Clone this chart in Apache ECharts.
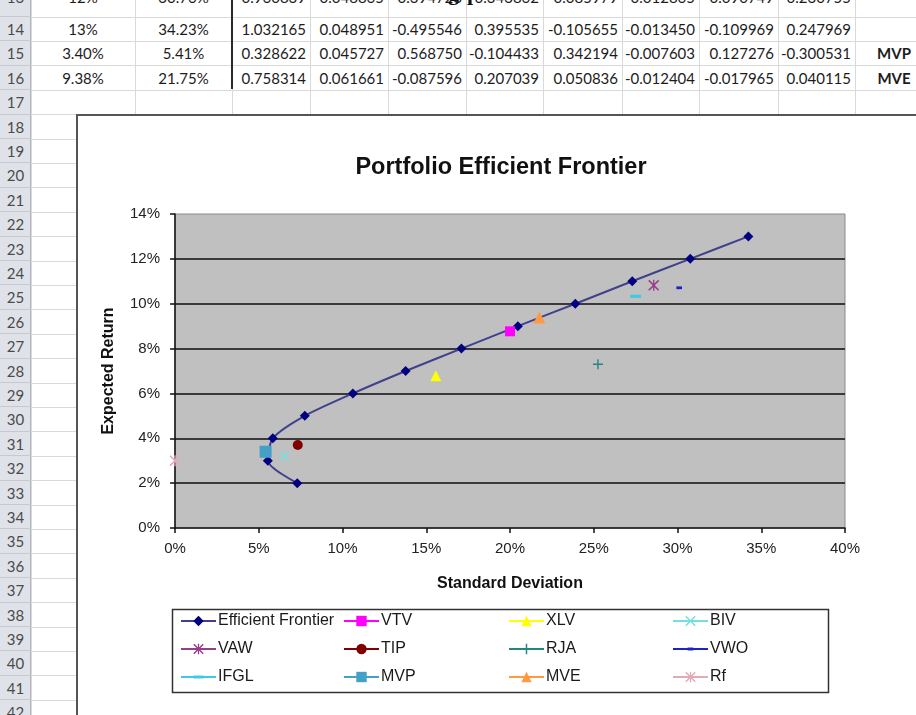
<!DOCTYPE html>
<html>
<head>
<meta charset="utf-8">
<title>Portfolio Efficient Frontier</title>
<script src="https://cdn.jsdelivr.net/npm/echarts@6/dist/echarts.min.js"></script>
<style>
  html, body { margin: 0; padding: 0; background: #fff; }
  #page { position: relative; width: 916px; height: 715px; overflow: hidden; background: #fff;
          font-family: Lato, "Liberation Sans", sans-serif; }
  .hline { position: absolute; height: 1px; background: #d9d9d9; }
  .vline { position: absolute; width: 1px; background: #d9d9d9; }
  .rowhdr { position: absolute; left: 0; width: 31px; background: #dfe3e9; border-right: 1px solid #aeb5c0;
            box-sizing: border-box; border-bottom: 1px solid #c4cad3; color: #4b4b4b; font-size: 15px;
            text-align: center; }
  .cell { position: absolute; font-size: 15px; color: #1c1c1c; white-space: nowrap; box-sizing: border-box; }
  .cell.num { text-align: right; padding-right: 4px; }
  .cell.ctr { text-align: center; }
  .cell.tag { text-align: center; font-weight: bold; }
  .heading { position: absolute; font-family: "Liberation Serif", serif; font-weight: bold; font-size: 22px;
             line-height: 22px; color: #111; white-space: nowrap; }
  #chartBox { position: absolute; left: 76px; top: 114px; width: 900px; height: 700px; background: #fff;
              border: 2px solid #555; box-sizing: border-box; }
  #chart { position: absolute; left: 0; top: 0; width: 916px; height: 715px; }
</style>
</head>
<body>
<div id="page">
  <div id="sheet"></div>
  <div id="chartBox"></div>
  <div id="chart"></div>
</div>
<script>
// ---- worksheet rows shown above the chart ----
const sheetRow13 = ['12%', '30.76%', '0.960839', '0.048865', '-0.394728', '0.343862', '-0.085979', '-0.012865', '-0.090749', '0.230755', ''];
const sheetRow14 = ['13%', '34.23%', '1.032165', '0.048951', '-0.495546', '0.395535', '-0.105655', '-0.013450', '-0.109969', '0.247969', ''];
const sheetRow15 = ['3.40%', '5.41%', '0.328622', '0.045727', '0.568750', '-0.104433', '0.342194', '-0.007603', '0.127276', '-0.300531', 'MVP'];
const sheetRow16 = ['9.38%', '21.75%', '0.758314', '0.061661', '-0.087596', '0.207039', '0.050836', '-0.012404', '-0.017965', '0.040115', 'MVE'];

// ---- efficient frontier (standard deviation %, expected return %) ----
const frontierRisk   = [7.30, 5.54, 5.84, 7.75, 10.62, 13.77, 17.10, 20.47, 23.90, 27.30, 30.76, 34.23];
const frontierReturn = [2, 3, 4, 5, 6, 7, 8, 9, 10, 11, 12, 13];

// ---- individual assets and special portfolios ----
const assetNames  = ['VTV', 'XLV', 'BIV', 'VAW', 'TIP', 'RJA', 'VWO', 'IFGL', 'MVP', 'MVE', 'Rf'];
const assetRisk   = [20.00, 15.57, 6.52, 28.58, 7.33, 25.25, 30.10, 27.50, 5.41, 21.75, 0.00];
const assetReturn = [8.77, 6.79, 3.22, 10.82, 3.70, 7.30, 10.71, 10.33, 3.40, 9.38, 3.00];

// ---- axis ticks ----
const xTicks = { min: 0, max: 40, step: 5 };
const yTicks = { min: 0, max: 14, step: 2 };

// ---------------- worksheet grid ----------------
(function buildSheet() {
  const sheet = document.getElementById('sheet');
  const colEdges = [31, 135, 232, 310, 388, 466, 543, 622, 699, 778, 855, 933];
  const rowPitch = 24.4, row14Top = 17;
  const rowTop = n => row14Top + (n - 14) * rowPitch;
  // the top row is scrolled partly out of view
  const textTop = n => rowTop(n) - (n === 13 ? 8 : 0);
  const add = (cls, css, text) => {
    const d = document.createElement('div');
    d.className = cls;
    Object.assign(d.style, css);
    if (text !== undefined) d.textContent = text;
    sheet.appendChild(d);
    return d;
  };
  // gridlines
  for (let n = 13; n <= 43; n++) {
    add('hline', { left: '31px', top: (rowTop(n) - 0.5) + 'px', width: '885px' });
  }
  colEdges.forEach(x => add('vline', { left: x + 'px', top: '0px', height: '715px' }));
  // row headers
  for (let n = 13; n <= 42; n++) {
    add('rowhdr', { top: rowTop(n) + 'px', height: rowPitch + 'px' });
    add('cell', { left: '0px', width: '31px', textAlign: 'center', color: '#4b4b4b',
                  top: textTop(n) + 'px', height: rowPitch + 'px', lineHeight: (rowPitch + 1) + 'px' }, String(n));
  }
  // cell values
  const rows = { 13: sheetRow13, 14: sheetRow14, 15: sheetRow15, 16: sheetRow16 };
  Object.keys(rows).forEach(k => {
    const n = +k;
    rows[k].forEach((txt, c) => {
      if (!txt) return;
      const cls = c < 2 ? 'cell ctr' : (c === 10 ? 'cell tag' : 'cell num');
      add(cls, {
        left: colEdges[c] + 'px', width: (colEdges[c + 1] - colEdges[c]) + 'px',
        top: textTop(n) + 'px', height: rowPitch + 'px', lineHeight: (rowPitch + 1) + 'px'
      }, txt);
    });
  });
  // heavy border between the summary columns and the weights
  add('', { position: 'absolute', left: '231px', top: '0px', width: '2px', height: (rowTop(17) - 1) + 'px', background: '#2a2a2a' });
  // heading text sitting above the visible rows
  add('heading', { right: (916 - 459) + 'px', top: '-18px' }, 'Calculating');
  add('heading', { left: '467px', top: '-18px' }, 'portfolio');
})();

// ---------------- chart ----------------
const FONT = '"Liberation Sans", Arial, sans-serif';

// marker shapes (square bounding box so legend icons keep their proportions)
const SYM_PLUS  = 'path://M0,0M10,10M4.3,0H5.7V4.3H10V5.7H5.7V10H4.3V5.7H0V4.3H4.3Z';
const SYM_X     = 'path://M1,0L5,4L9,0L10,1L6,5L10,9L9,10L5,6L1,10L0,9L4,5L0,1Z';
const SYM_STAR  = 'path://M1,0L5,4L9,0L10,1L6,5L10,9L9,10L5,6L1,10L0,9L4,5L0,1Z M4.4,0H5.6V10H4.4Z';
const SYM_DASH  = 'path://M0,0M10,10M0,3.6H10V6.4H0Z';
const SYM_DASHS = 'path://M0,0M10,10M2.2,3.6H7.8V6.4H2.2Z';

const assetLook = {
  VTV:  { symbol: 'rect',     size: 10, color: '#ff00ff' },
  XLV:  { symbol: 'triangle', size: 11, color: '#ffff00' },
  BIV:  { symbol: SYM_X,      size: 10, color: '#72dfe3' },
  VAW:  { symbol: SYM_STAR,   size: 11, color: '#9a3c8c' },
  TIP:  { symbol: 'circle',   size: 10, color: '#800000' },
  RJA:  { symbol: SYM_PLUS,   size: 10, color: '#23867f' },
  VWO:  { symbol: SYM_DASHS,  size: 10, color: '#1f22c8' },
  IFGL: { symbol: SYM_DASH,   size: 11, color: '#3ccbe6' },
  MVP:  { symbol: 'rect',     size: 12, color: '#45a0c8' },
  MVE:  { symbol: 'triangle', size: 12, color: '#ff9a42' },
  Rf:   { symbol: SYM_STAR,   size: 11, color: '#e2aab6' }
};

const series = [{
  name: 'Efficient Frontier',
  type: 'line',
  data: frontierRisk.map((x, i) => [x, frontierReturn[i]]),
  symbol: 'diamond',
  symbolSize: 10,
  smooth: 0.25,
  itemStyle: { color: '#000080' },
  lineStyle: { color: '#40408c', width: 2 },
  z: 2
}];
assetNames.forEach((name, i) => {
  const look = assetLook[name];
  series.push({
    name,
    type: 'line',
    data: [[assetRisk[i], assetReturn[i]]],
    symbol: look.symbol,
    symbolSize: look.size,
    itemStyle: { color: look.color },
    lineStyle: { color: look.color, width: 2 },
    z: 3
  });
});

const legendColumns = [
  ['Efficient Frontier', 'VAW', 'IFGL'],
  ['VTV', 'TIP', 'MVP'],
  ['XLV', 'RJA', 'MVE'],
  ['BIV', 'VWO', 'Rf']
];
const legendLeft = [180, 343, 508, 672];

const option = {
  animation: false,
  textStyle: { fontFamily: FONT },
  grid: {
    left: 175, right: 71, top: 214, bottom: 187,
    show: true, backgroundColor: '#c0c0c0', borderColor: '#8a8a8a', borderWidth: 1
  },
  xAxis: {
    type: 'value', min: xTicks.min, max: xTicks.max, interval: xTicks.step,
    name: 'Standard Deviation', nameLocation: 'middle', nameGap: 48,
    nameTextStyle: { fontFamily: FONT, fontSize: 16, fontWeight: 'bold', color: '#111' },
    axisLine: { show: true, onZero: false, lineStyle: { color: '#111', width: 1.5 } },
    axisTick: { show: true, inside: false, length: 5, lineStyle: { color: '#111', width: 1.5 } },
    axisLabel: { formatter: '{value}%', fontSize: 15, color: '#222', margin: 13, fontFamily: FONT },
    splitLine: { show: false }
  },
  yAxis: {
    type: 'value', min: yTicks.min, max: yTicks.max, interval: yTicks.step,
    name: 'Expected Return', nameLocation: 'middle', nameGap: 58,
    nameTextStyle: { fontFamily: FONT, fontSize: 16, fontWeight: 'bold', color: '#111' },
    axisLine: { show: true, onZero: false, lineStyle: { color: '#111', width: 1.5 } },
    axisTick: { show: true, inside: false, length: 5, lineStyle: { color: '#111', width: 1.5 } },
    axisLabel: { formatter: '{value}%', fontSize: 15, color: '#222', margin: 15, fontFamily: FONT },
    splitLine: { show: true, showMinLine: false, showMaxLine: false, lineStyle: { color: '#3a3a3a', width: 2 } }
  },
  legend: legendColumns.map((names, c) => ({
    data: names,
    orient: 'vertical',
    left: legendLeft[c],
    top: 613,
    padding: 0,
    itemWidth: 35,
    itemHeight: 13,
    itemGap: 12,
    selectedMode: false,
    textStyle: { fontFamily: FONT, fontSize: 16, color: '#1a1a1a', padding: [0, 0, 0, -3] }
  })),
  graphic: [
    {
      type: 'text', x: 501, y: 168, silent: true,
      style: { text: 'Portfolio Efficient Frontier', fill: '#111', align: 'center', verticalAlign: 'middle',
               font: 'bold 23.5px "Liberation Sans", Arial, sans-serif' }
    },
    {
      type: 'rect', silent: true, z: -1,
      shape: { x: 172.5, y: 609.5, width: 656, height: 83 },
      style: { fill: 'none', stroke: '#333', lineWidth: 1.5 }
    }
  ],
  series
};

const chart = echarts.init(document.getElementById('chart'), null, { renderer: 'canvas' });
chart.setOption(option);
</script>
</body>
</html>
